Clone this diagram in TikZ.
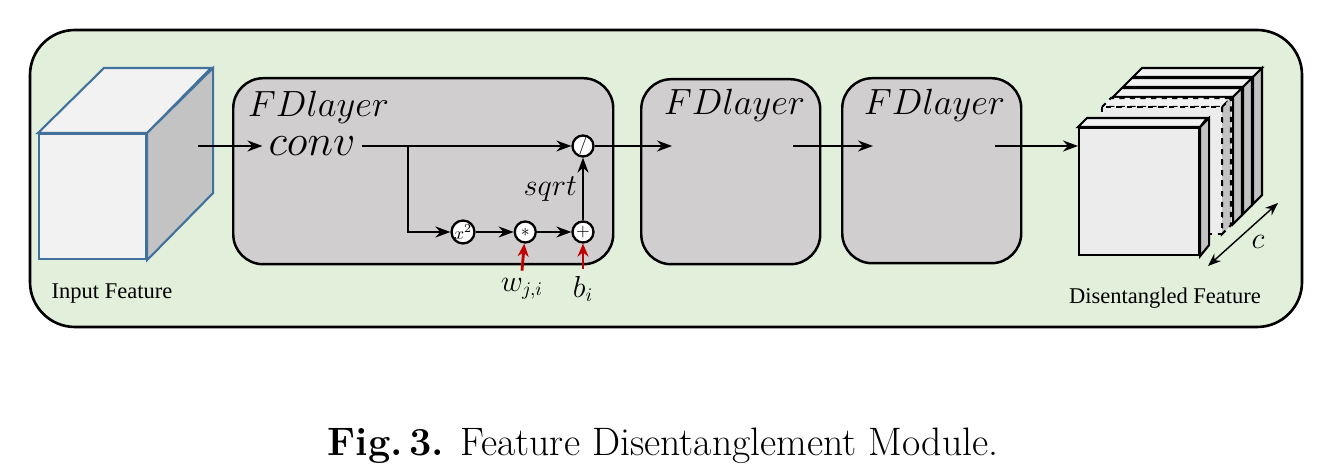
\documentclass[tikz,border=0pt]{standalone}
\usepackage{fontspec}
\newfontfamily\timesfont{Liberation Serif}
\usepackage{xcolor}
\usepackage{tikz}
\usetikzlibrary{arrows.meta, positioning}

\definecolor{modgreen}{HTML}{E2EFDA}
\definecolor{layergray}{HTML}{D0CECE}
\definecolor{cubeedge}{HTML}{41719C}
\definecolor{cubeside}{HTML}{C3C3C3}
\definecolor{paramred}{HTML}{C00000}

\begin{document}
\begin{tikzpicture}[
        >={Stealth[length=3mm, width=2.2mm]},
        line width=1pt,
        module/.style={
            draw,
            line width=1.5pt,
            rounded corners=0.9cm,
            fill=modgreen
        },
        layer/.style={
            rectangle,
            draw,
            line width=1.4pt,
            rounded corners=0.6cm,
            fill=layergray,
            anchor=north west
        },
        op/.style={
            circle,
            draw,
            line width=1.3pt,
            fill=white,
            minimum size=0.42cm,
            inner sep=0pt,
            font=\normalsize
        },
        lbl/.style={font=\fontsize{20}{24}\selectfont, inner sep=0pt},
        small lbl/.style={font=\fontsize{16}{19}\selectfont, inner sep=1pt},
        feat/.style={font=\timesfont\fontsize{12.8}{15}\selectfont},
        slab/.style={draw, line width=1.2pt, fill=gray!15},
        param/.style={->, paramred, line width=1.6pt, >={Stealth[length=2.6mm, width=2.2mm]}}
    ]
    \useasboundingbox (0,0) rectangle (26.36,9.48);

    % Module frame
    \draw[module] (0.6,2.94) rectangle (26.04,8.88);

    % Input cube
    \node[draw=cubeedge, line width=1.2pt, fill=gray!10, minimum width=2.14cm,
        minimum height=2.5cm, anchor=north west, inner sep=0pt] (infeat) at (0.76,6.82) {};
    \draw[cubeedge, line width=1.2pt, fill=gray!10]
        (infeat.north west) -- ++(1.32,1.3) -- ++(2.14,0) -- (infeat.north east) -- cycle;
    \draw[cubeedge, line width=1.2pt, fill=cubeside]
        (infeat.north east) -- ++(1.32,1.3) -- ++(0,-2.5) -- (infeat.south east) -- cycle;
    \node[feat] (inlabel) at (2.24,3.6) {Input Feature};
    \coordinate (incube) at (3.96,6.56);

    % FD layers
    \node[layer, minimum width=7.6cm, minimum height=3.72cm] (fd1) at (4.64,7.94) {};
    \node[layer, minimum width=3.58cm, minimum height=3.7cm] (fd2) at (12.8,7.92) {};
    \node[layer, minimum width=3.58cm, minimum height=3.7cm] (fd3) at (16.82,7.94) {};
    \node[lbl, anchor=base west] (fd1title) at (4.94,7.14) {$FDlayer$};
    \node[lbl, anchor=base west] (fd2title) at (13.26,7.18) {$FDlayer$};
    \node[lbl, anchor=base west] (fd3title) at (17.26,7.18) {$FDlayer$};

    % Inside the first layer
    \node[lbl, font=\fontsize{24}{28}\selectfont, inner sep=3pt] (conv) at (6.24,6.56) {$conv$};
    \coordinate (branch) at (8.16,6.56);
    \node[op] (div) at (11.66,6.56) {$/$};
    \node[op] (sq) at (9.26,4.84) {$x^2$};
    \node[op, right=0.76cm of sq] (mul) {$*$};
    \node[op] (add) at (11.66,4.84) {$+$};
    \node[small lbl] (wji) at (10.44,3.7) {$w_{j,i}$};
    \node[small lbl] (bi) at (11.66,3.7) {$b_i$};

    % Output stack
    \foreach \x/\y in {22.66/7.94, 22.46/7.74, 22.26/7.54} {
        \draw[slab, fill=gray!10] (\x,\y) -- ++(0.18,0.18) -- ++(2.4,0) -- ++(-0.18,-0.18) -- cycle;
        \draw[slab, fill=cubeside] (\x+2.4,\y) -- ++(0.18,0.18) -- ++(0,-2.54) -- ++(-0.18,-0.18) -- cycle;
        \draw[slab] (\x,\y) rectangle ++(2.4,-2.54);
    }
    \draw[slab, dashed, fill=gray!10] (22.04,7.34) -- ++(0.18,0.18) -- ++(2.4,0) -- ++(-0.18,-0.18) -- cycle;
    \draw[slab, dashed, fill=cubeside] (24.44,7.34) -- ++(0.18,0.18) -- ++(0,-2.54) -- ++(-0.18,-0.18) -- cycle;
    \draw[slab, dashed] (22.04,7.34) rectangle ++(2.4,-2.54);
    \node[slab, minimum width=2.4cm, minimum height=2.54cm, anchor=north west,
        inner sep=0pt] (outfeat) at (21.56,6.94) {};
    \draw[slab, fill=gray!10]
        (outfeat.north west) -- ++(0.18,0.18) -- ++(2.4,0) -- (outfeat.north east) -- cycle;
    \draw[slab, fill=cubeside]
        (outfeat.north east) -- ++(0.18,0.18) -- ++(0,-2.54) -- (outfeat.south east) -- cycle;
    \node[feat] (outlabel) at (23.3,3.52) {Disentangled Feature};
    \coordinate (cstart) at (24.16,4.16);
    \coordinate (cend) at (25.56,5.42);
    \node[small lbl, font=\fontsize{17}{20}\selectfont] (clabel) at (25.16,4.64) {$c$};

    % Flow points
    \coordinate (fd2in) at (13.44,6.56);
    \coordinate (fd2out) at (15.86,6.56);
    \coordinate (fd3in) at (17.46,6.56);
    \coordinate (fd3out) at (19.9,6.56);

    % Arrows
    \draw[->] (incube) -- (incube -| conv.west);
    \draw (conv.east |- branch) -- (branch);
    \draw[->] (branch) -- (div);
    \draw[->] (branch) |- (sq);
    \draw[->] (sq) -- (mul);
    \draw[->] (mul) -- (add);
    \draw[->] (add) -- node[small lbl, left=2pt] {$sqrt$} (div);
    \draw[param] (wji.north) ++(0,0.1) -- (mul);
    \draw[param] (bi.north) ++(0,0.1) -- (add);
    \draw[->] (div) -- (fd2in);
    \draw[->] (fd2out) -- (fd3in);
    \draw[->] (fd3out) -- (fd3out -| outfeat.west);
    \draw[<->, line width=0.8pt, >={Stealth[length=2.6mm, width=2mm]}] (cstart) -- (cend);

    % Caption
    \node[font=\fontsize{22.6}{27}\selectfont] (caption) at (13.26,0.56)
        {\textbf{Fig.\,3.} Feature Disentanglement Module.};

\end{tikzpicture}
\end{document}
